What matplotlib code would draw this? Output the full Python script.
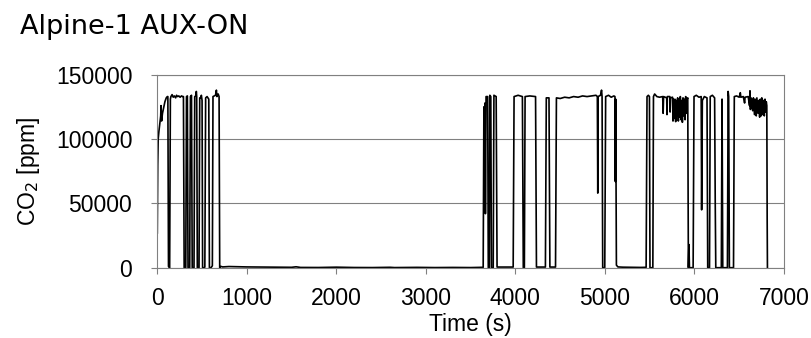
import matplotlib
matplotlib.use("Agg")
import matplotlib.pyplot as plt
import numpy as np

# CO2 trace, split into pieces (time in s, CO2 in ppm)
start_t = [0, 5, 10, 18, 28, 38, 42, 48, 58, 70, 85, 100, 112]
start_c = [27000, 80000, 100000, 106000, 112000, 118000, 126000, 114000, 120000, 124000, 129000, 132000, 133000]

burst1_t = [118, 125, 138, 146, 152, 165, 178, 190, 205, 215, 228, 240, 255, 270, 285,
            292, 300, 318, 326, 336, 343, 362, 370, 382, 390, 410, 418, 430, 436, 440,
            447, 466, 474, 486, 492, 500, 506, 525, 531, 540, 556, 575, 582, 600, 615,
            622, 650, 660, 666, 680, 690, 697, 710, 730]
burst1_c = [133000, 1000, 0, 131000, 133000, 134500, 132500, 133500, 132000, 134000, 133000, 133500, 132500, 133500, 133000,
            133000, 0, 0, 133000, 133500, 0, 0, 133000, 134000, 0, 0, 133000, 133500, 137000, 133000,
            0, 0, 132000, 132000, 134000, 130000, 0, 0, 500, 132000, 133000, 131000, 0, 0, 1500,
            133000, 134000, 138000, 133000, 135000, 133000, 0, 1000, 600]

quiet_t = [800, 1000, 1300, 1500, 1550, 1600, 1800, 2000, 2200, 2400, 2600, 2650, 2900, 3100, 3300, 3500, 3640]
quiet_c = [900, 600, 400, 300, 700, 200, 150, 400, 150, 100, 300, 100, 250, 100, 200, 100, 300]

burst2_t = [3648, 3652, 3660, 3665, 3672, 3690, 3697, 3708, 3714, 3725, 3732, 3752, 3760, 3785, 3795,
            3975, 3985, 4030, 4078, 4088, 4100, 4108, 4160, 4225, 4235, 4335, 4345, 4375, 4385, 4448,
            4458, 4500, 4550, 4600, 4650, 4700, 4750, 4800, 4850, 4900, 4915, 4920, 4923, 4950, 4962,
            4968, 4975, 4998, 5008, 5040, 5070, 5100, 5112, 5116, 5120, 5128, 5145, 5200, 5300, 5400, 5460]
burst2_c = [125000, 45000, 128000, 42000, 133000, 133000, 0, 0, 134000, 133000, 0, 0, 134000, 133000, 500,
            500, 133000, 134000, 133000, 0, 0, 133000, 133500, 133000, 500, 500, 132000, 132000, 500, 500,
            132000, 131500, 132500, 132000, 133000, 132500, 133500, 133000, 133500, 134000, 133000, 58000, 133000, 134000, 138000,
            133000, 0, 0, 133000, 134000, 132500, 133500, 133000, 67000, 131000, 2000, 600, 400, 300, 200, 300]

burst3_t = [5470, 5485, 5497, 5503, 5535, 5542, 5555, 5580, 5610, 5645, 5650, 5655, 5690, 5693, 5697,
            5725, 5728, 5732, 5755, 5760, 5765, 5775, 5782, 5790, 5797, 5805, 5812, 5820, 5828, 5835,
            5842, 5850, 5857, 5865, 5872, 5880, 5887, 5895, 5902, 5910, 5918, 5925, 5932, 5938, 5944,
            5985, 5995, 6020, 6050, 6075, 6080, 6088, 6110, 6140, 6148, 6168, 6176, 6200, 6225, 6232,
            6238, 6300, 6308, 6316, 6368, 6376, 6382, 6390, 6436, 6445, 6470, 6500, 6512, 6518, 6545,
            6560, 6565, 6600, 6615, 6620, 6625, 6632, 6650, 6658, 6670, 6678, 6690, 6697, 6710, 6718,
            6728, 6735, 6745, 6752, 6762, 6770, 6780, 6788, 6795, 6802, 6808, 6812, 6815]
burst3_c = [133000, 134000, 133000, 0, 0, 133000, 135000, 133000, 132500, 133000, 120000, 133000, 132000, 119000, 133000,
            133000, 121000, 132000, 132500, 114000, 131000, 116000, 131000, 113500, 130000, 118000, 132000, 114000, 131000, 117000,
            133000, 115000, 130000, 113000, 132000, 118000, 131000, 115000, 133000, 120000, 131000, 132000, 0, 18000, 0,
            0, 133000, 134000, 132500, 133000, 45000, 130000, 133000, 132000, 0, 0, 133000, 134000, 132000, 50000,
            0, 0, 131000, 0, 0, 137000, 133000, 0, 0, 133000, 133500, 132500, 136000, 132500, 133000,
            128000, 132500, 133000, 126000, 137500, 123000, 132000, 122000, 132000, 119000, 131000, 118000, 132000, 120000, 130000,
            117000, 131000, 118000, 132000, 119000, 130000, 118000, 131000, 121000, 129000, 126000, 38000, 0]

time_s = np.concatenate([start_t, burst1_t, quiet_t, burst2_t, burst3_t])
co2_ppm = np.concatenate([start_c, burst1_c, quiet_c, burst2_c, burst3_c])

W, H = 811, 338
fig = plt.figure(figsize=(W / 100, H / 100), dpi=100)
ax = fig.add_axes([157.3 / W, 1 - 267.7 / H, (784 - 157.3) / W, (267.7 - 74.7) / H])

grey = "#808080"
ax.plot(time_s, co2_ppm, color="black", lw=1.2)

ax.set_xlim(0, 7000)
ax.set_ylim(0, 150000)
ax.set_xticks(range(0, 7001, 1000))
ax.set_yticks([0, 50000, 100000, 150000])
ax.yaxis.grid(True, color=grey, lw=0.8)
ax.set_axisbelow(True)
for s in ax.spines.values():
    s.set_color(grey)
    s.set_linewidth(0.8)
ax.tick_params(direction="out", length=4, width=0.8, color=grey, labelsize=16.5)
ax.tick_params(axis="x", pad=10)
ax.tick_params(axis="y", pad=14)
for lab in ax.get_xticklabels() + ax.get_yticklabels():
    lab.set_family("Liberation Sans")

ax.set_xlabel("Time (s)", family="Liberation Sans", fontsize=16.5, labelpad=2)
ax.set_ylabel("CO$_2$ [ppm]", family="Liberation Sans", fontsize=16.5, labelpad=10)

fig.text(20 / W, 1 - 34 / H, "Alpine-1 AUX-ON", family="DejaVu Sans", fontsize=19.5,
         ha="left", va="baseline")

fig.savefig("out.png", dpi=100)
